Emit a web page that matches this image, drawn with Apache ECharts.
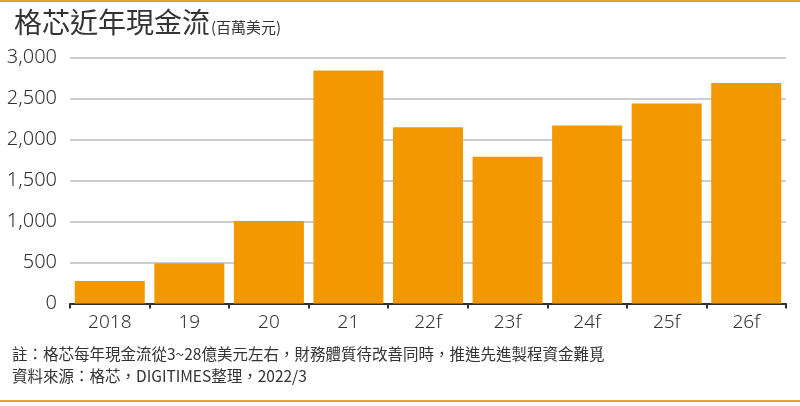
<!DOCTYPE html>
<html>
<head>
<meta charset="utf-8">
<script src="https://cdn.jsdelivr.net/npm/echarts@6/dist/echarts.min.js"></script>
<style>
html,body{margin:0;padding:0;background:#fff;}
#c{width:800px;height:406px;}
</style>
</head>
<body>
<div id="c"></div>
<script>
var categories = ['2018', '19', '20', '21', '22f', '23f', '24f', '25f', '26f'];
var cashFlow = [275, 490, 1005, 2840, 2150, 1790, 2170, 2440, 2690];
var yTickValues = [0, 500, 1000, 1500, 2000, 2500, 3000];
var titleText = '格芯近年現金流';
var unitText = '(百萬美元)';
var noteText = '註：格芯每年現金流從3~28億美元左右，財務體質待改善同時，推進先進製程資金難覓';
var sourceText = '資料來源：格芯，DIGITIMES整理，2022/3';

var cjk = '"Noto Sans CJK TC", "Noto Sans", sans-serif';
var num = '"Noto Sans", "Open Sans", sans-serif';
var chart = echarts.init(document.getElementById('c'), null, {renderer: 'canvas'});
chart.setOption({
  backgroundColor: '#ffffff',
  animation: false,
  title: {
    left: 9,
    top: 3,
    text: '{t|' + titleText + '}{u|' + unitText + '}',
    textStyle: {
      fontWeight: 'normal',
      rich: {
        t: {fontSize: 28, fontFamily: cjk, color: '#333333', fontWeight: 'normal', verticalAlign: 'bottom'},
        u: {fontSize: 15, fontFamily: cjk, color: '#333333', fontWeight: 'normal', verticalAlign: 'bottom', padding: [0, 0, 1, 1]}
      }
    }
  },
  grid: {left: 70, right: 14, top: 57.5, bottom: 102.5, containLabel: false},
  xAxis: {
    type: 'category',
    data: categories,
    axisLine: {lineStyle: {color: '#333333', width: 2}},
    axisTick: {show: true, length: 5, lineStyle: {color: '#333333', width: 2}},
    axisLabel: {margin: 10, fontSize: 19, color: '#333333', fontFamily: num, fontWeight: 300}
  },
  yAxis: {
    type: 'value',
    min: yTickValues[0],
    max: yTickValues[yTickValues.length - 1],
    interval: 500,
    axisLine: {show: false},
    axisTick: {show: false},
    splitLine: {lineStyle: {color: '#bcbcbc', width: 1.5}},
    axisLabel: {
      margin: 13,
      fontSize: 20,
      color: '#333333',
      fontFamily: num,
      fontWeight: 300,
      formatter: function (v) { return v.toLocaleString('en-US'); }
    }
  },
  series: [{
    type: 'bar',
    data: cashFlow,
    barCategoryGap: '12%',
    itemStyle: {color: '#f39800'}
  }],
  graphic: [
    {type: 'rect', shape: {x: 0, y: 0, width: 800, height: 2}, style: {fill: '#f39a2b'}, silent: true},
    {type: 'rect', shape: {x: 0, y: 400, width: 800, height: 2}, style: {fill: '#f39a2b'}, silent: true},
    {type: 'text', left: 12, top: 346, style: {text: noteText, fontSize: 15.5, fontFamily: cjk, fill: '#333333'}},
    {type: 'text', left: 12, top: 368, style: {text: sourceText, fontSize: 15.5, fontFamily: cjk, fill: '#333333'}}
  ]
});
</script>
</body>
</html>
